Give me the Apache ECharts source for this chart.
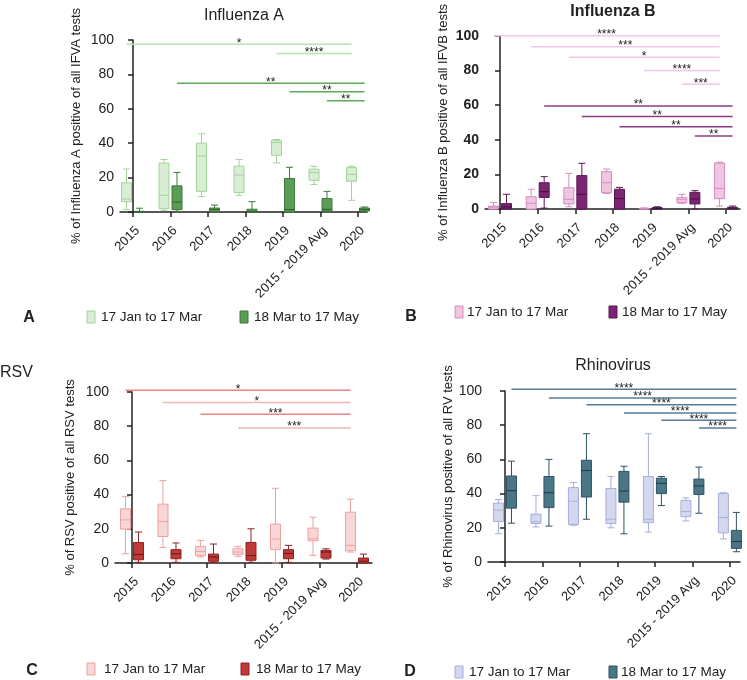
<!DOCTYPE html>
<html><head><meta charset="utf-8">
<script src="https://cdn.jsdelivr.net/npm/echarts@6/dist/echarts.min.js"></script>
<style>html,body{margin:0;padding:0;background:#fff}#c{width:747px;height:680px}</style>
</head><body><div id="c"></div>
<script>
// ---------------- DATA ----------------
const categories = ['2015', '2016', '2017', '2018', '2019', '2015 - 2019 Avg', '2020'];
const yTicks = [0, 20, 40, 60, 80, 100];
const legendNames = ['17 Jan to 17 Mar', '18 Mar to 17 May'];
// box values: [min, Q1, median, Q3, max]
const fluA_early = [
  [1.5, 6, 7.5, 17, 25],
  [1, 2, 9.7, 28.5, 30.5],
  [9, 12, 32.5, 40, 45.5],
  [9.7, 11.3, 21.5, 26.6, 30.5],
  [28.5, 33, 40.4, 41.7, 42.1],
  [16, 18.4, 22.9, 24.9, 26.6],
  [6.8, 17.9, 21.9, 25.8, 26.6]
];
const fluA_late = [
  [0, 0, 0, 0.4, 2.2],
  [0.4, 1.4, 5.8, 15.2, 23],
  [0, 0.3, 1.5, 2.3, 4],
  [0, 0, 0.4, 1.6, 6],
  [0, 0, 1.4, 19.5, 26],
  [0, 0.6, 1.6, 7.8, 12],
  [0.4, 0.6, 1.5, 2.3, 2.9]
];
// significance bars: [fromCategory, toCategory, yLevel, label]
const fluA_sigEarly = [[0, 6, 97.5, '*'], [4, 6, 92.2, '****']];
const fluA_sigLate = [[1, 6, 74.8, '**'], [4, 6, 69.9, '**'], [5, 6, 64.7, '**']];

const fluB_early = [
  [0, 0, 1, 1.7, 3.8],
  [0, 0, 3.3, 7.1, 11.4],
  [1.3, 2.9, 5.6, 12.3, 20.6],
  [9, 9.4, 15.2, 21.6, 23.1],
  [0, 0, 0.2, 0.4, 0.6],
  [3.3, 3.7, 5.6, 6.7, 8.5],
  [1.7, 6, 11.9, 26.6, 27]
];
const fluB_late = [
  [0, 0, 1.2, 3.1, 8.5],
  [0.5, 6.7, 10, 15.2, 18.7],
  [0, 0, 8.5, 19.3, 26.4],
  [0, 0, 6, 11.4, 12.5],
  [0, 0, 0.4, 0.8, 1.3],
  [0, 2.9, 5.8, 9.6, 10.6],
  [0, 0, 0.5, 1, 1.7]
];
const fluB_sigEarly = [[0, 6, 100.2, '****'], [1, 6, 93.8, '***'], [2, 6, 87.7, '*'], [4, 6, 80, '****'], [5, 6, 72.1, '***']];
const fluB_sigLate = [[1, 6, 59.5, '**'], [2, 6, 53.4, '**'], [3, 6, 47.6, '**'], [5, 6, 42.2, '**']];

const rsv_early = [
  [5.4, 19.8, 25.2, 31.7, 38.8],
  [9.1, 15.5, 24.3, 34.4, 48.2],
  [3.5, 4.3, 6.8, 9.7, 13.2],
  [3.9, 4.9, 6.4, 8.3, 9.7],
  [0, 7.8, 14, 22.7, 43.7],
  [4.5, 13, 14.2, 20.4, 26.8],
  [6.4, 7.2, 10.3, 29.7, 37.3]
];
const rsv_late = [
  [0.4, 1.9, 4.9, 12, 18.1],
  [0.4, 2.5, 5.4, 7.8, 11.7],
  [0.4, 1, 3.5, 5.2, 11.1],
  [0.4, 1.6, 4.3, 12, 20],
  [0.4, 2.5, 5.6, 7.8, 10.3],
  [2.3, 2.9, 6.4, 7.4, 8.3],
  [0, 0, 1, 2.9, 5.2]
];
const rsv_sigEarly = [[0, 6, 101, '*'], [1, 6, 93.8, '*'], [2, 6, 87, '***'], [3, 6, 79, '***']];
const rsv_sigLate = [];

const rv_early = [
  [16.5, 23.7, 30.3, 34.4, 36.5],
  [20.5, 22.5, 23.5, 28, 38.8],
  [21.5, 22, 35.5, 43.5, 46.5],
  [20, 22.5, 25, 43, 50],
  [17.5, 23, 25, 50, 75],
  [24, 26.5, 29.5, 36, 37.5],
  [13.5, 17, 26, 40, 40.5]
];
const rv_late = [
  [22.7, 31.5, 41.7, 50.3, 59],
  [21, 31.8, 40.5, 50, 60],
  [25, 38, 53.5, 59.5, 75],
  [16.5, 35, 41.5, 53, 56],
  [33, 40, 46, 49, 50],
  [28.5, 39.5, 44.5, 48.5, 55.5],
  [6, 8, 12, 18.5, 29]
];
const rv_sigEarly = [];
const rv_sigLate = [[0, 6, 101, '****'], [1, 6, 95.9, '****'], [2, 6, 92, '****'], [3, 6, 87.2, '****'], [4, 6, 82.9, '****'], [5, 6, 78.4, '****']];

// ---------------- STYLE / LAYOUT ----------------
const FONT = '"Liberation Sans", Arial, Helvetica, sans-serif';
const TXT = '#222';
const BOX_W = 10, CAP_W = 7, OFF = 6.5;

const panels = [
  { grid: { left: 120, top: 40, width: 247, height: 172 }, xr: [-0.347, 6.24],
    early: fluA_early, late: fluA_late, sigE: fluA_sigEarly, sigL: fluA_sigLate,
    yName: '% of Influenza A positive of all IFVA tests', nameGap: 37, bold: false,
    c: { eFill: '#d8edd4', eStroke: '#a2d49a', lFill: '#5b9d57', lStroke: '#3c7a39', lMed: '#2c6229',
         sigE: ['#b9e3b1'], sigL: ['#5aab55'] } },
  { grid: { left: 485, top: 36, width: 255, height: 173 }, xr: [-0.398, 6.37],
    early: fluB_early, late: fluB_late, sigE: fluB_sigEarly, sigL: fluB_sigLate,
    yName: '% of Influenza B positive of all IFVB tests', nameGap: 35, bold: true,
    c: { eFill: '#efc5e1', eStroke: '#d68dc0', lFill: '#7c2573', lStroke: '#5a1854', lMed: '#3e0f3a',
         sigE: ['#f0c9e5'], sigL: ['#8b3b87'] } },
  { grid: { left: 115, top: 392, width: 257, height: 171 }, xr: [-0.453, 6.4],
    early: rsv_early, late: rsv_late, sigE: rsv_sigEarly, sigL: rsv_sigLate,
    yName: '% of RSV positive of all RSV tests', nameGap: 38, bold: false,
    c: { eFill: '#f9d6d6', eStroke: '#efa0a0', lFill: '#c13a3a', lStroke: '#8e2222', lMed: '#6a1515',
         sigE: ['#e98585', '#f4b8b8', '#e98585', '#f4b8b8'], sigL: ['#c13a3a'] } },
  { grid: { left: 488, top: 391, width: 252, height: 171 }, xr: [-0.453, 6.27],
    early: rv_early, late: rv_late, sigE: rv_sigEarly, sigL: rv_sigLate,
    yName: '% of Rhinovirus positive of all RV tests', nameGap: 31, bold: false,
    c: { eFill: '#d3d8ef', eStroke: '#a6aedc', lFill: '#4a7686', lStroke: '#2c5361', lMed: '#1c3a45',
         sigE: ['#a6aedc'], sigL: ['#4f7f90'] } }
];

const catIdx = categories.map((_, i) => i);

function boxRender(offset, fill, stroke, med) {
  return function (params, api) {
    const i = api.value(0);
    const cx = api.coord([i, 0])[0] + offset;
    const y = k => api.coord([i, api.value(k)])[1];
    const yMin = y(1), yQ1 = y(2), yMed = y(3), yQ3 = y(4), yMax = y(5);
    const hw = BOX_W / 2, cw = CAP_W / 2;
    const ls = { stroke: stroke, lineWidth: 1 };
    return { type: 'group', children: [
      { type: 'line', shape: { x1: cx, y1: yQ3, x2: cx, y2: yMax }, style: ls },
      { type: 'line', shape: { x1: cx - cw, y1: yMax, x2: cx + cw, y2: yMax }, style: ls },
      { type: 'line', shape: { x1: cx, y1: yQ1, x2: cx, y2: yMin }, style: ls },
      { type: 'line', shape: { x1: cx - cw, y1: yMin, x2: cx + cw, y2: yMin }, style: ls },
      { type: 'rect', shape: { x: cx - hw, y: yQ3, width: BOX_W, height: Math.max(yQ1 - yQ3, 0.6) },
        style: { fill: fill, stroke: stroke, lineWidth: 1 } },
      { type: 'line', shape: { x1: cx - hw, y1: yMed, x2: cx + hw, y2: yMed }, style: { stroke: med, lineWidth: 1 } }
    ] };
  };
}

function sigRender(list, offset, colors) {
  return function (params, api) {
    const s = list[params.dataIndex];
    const col = colors[params.dataIndex % colors.length];
    const p1 = api.coord([api.value(0), api.value(2)]);
    const p2 = api.coord([api.value(1), api.value(2)]);
    const x1 = p1[0] + offset, x2 = p2[0] + offset, yy = p1[1];
    return { type: 'group', children: [
      { type: 'line', shape: { x1: x1, y1: yy, x2: x2, y2: yy }, style: { stroke: col, lineWidth: 1.5 } },
      { type: 'text', x: (x1 + x2) / 2, y: yy + 5,
        style: { text: s[3], fill: TXT, font: '12px ' + FONT, textAlign: 'center', textVerticalAlign: 'bottom' } }
    ] };
  };
}

const grid = [], xAxis = [], yAxis = [], series = [];
panels.forEach((p, k) => {
  grid.push(Object.assign({ containLabel: false }, p.grid));
  xAxis.push({
    type: 'value', gridIndex: k, min: p.xr[0], max: p.xr[1],
    splitLine: { show: false },
    axisLine: { show: true, onZero: false, lineStyle: { color: TXT, width: 1.5 } },
    axisTick: { show: true, customValues: catIdx, length: 5, lineStyle: { color: TXT, width: 1.5 } },
    axisLabel: { show: true, customValues: catIdx, rotate: 45, margin: 12, verticalAlign: 'top',
                 fontSize: 13, color: TXT, fontFamily: FONT,
                 formatter: v => categories[Math.round(v)] }
  });
  yAxis.push({
    type: 'value', gridIndex: k, min: yTicks[0], max: yTicks[yTicks.length - 1], interval: yTicks[1] - yTicks[0],
    splitLine: { show: false },
    axisLine: { show: true, lineStyle: { color: TXT, width: 1.5 } },
    axisTick: { show: true, length: 5, lineStyle: { color: TXT, width: 1.5 } },
    axisLabel: { margin: 6, fontSize: 14, color: TXT, fontFamily: FONT, fontWeight: p.bold ? 'bold' : 'normal' },
    name: p.yName, nameLocation: 'middle', nameGap: p.nameGap,
    nameTextStyle: { fontSize: 13, color: TXT, fontFamily: FONT }
  });
  series.push({
    type: 'custom', name: legendNames[0], xAxisIndex: k, yAxisIndex: k, clip: false,
    encode: { x: 0, y: [1, 2, 3, 4, 5] },
    data: p.early.map((d, i) => [i].concat(d)),
    renderItem: boxRender(-OFF, p.c.eFill, p.c.eStroke, p.c.eStroke)
  });
  series.push({
    type: 'custom', name: legendNames[1], xAxisIndex: k, yAxisIndex: k, clip: false,
    encode: { x: 0, y: [1, 2, 3, 4, 5] },
    data: p.late.map((d, i) => [i].concat(d)),
    renderItem: boxRender(OFF, p.c.lFill, p.c.lStroke, p.c.lMed)
  });
  if (p.sigE.length) series.push({
    type: 'custom', xAxisIndex: k, yAxisIndex: k, clip: false, z: 3,
    encode: { x: [0, 1], y: 2 },
    data: p.sigE.map(s => [s[0], s[1], s[2]]),
    renderItem: sigRender(p.sigE, -OFF, p.c.sigE)
  });
  if (p.sigL.length) series.push({
    type: 'custom', xAxisIndex: k, yAxisIndex: k, clip: false, z: 3,
    encode: { x: [0, 1], y: 2 },
    data: p.sigL.map(s => [s[0], s[1], s[2]]),
    renderItem: sigRender(p.sigL, OFF, p.c.sigL)
  });
});

// titles, letters, legends as real text
const graphics = [];
function txt(text, x, y, size, bold, align) {
  graphics.push({ type: 'text', x: x, y: y, silent: true,
    style: { text: text, fill: TXT, font: (bold ? 'bold ' : '') + size + 'px ' + FONT,
             textAlign: align || 'center', textVerticalAlign: 'middle' } });
}
txt('Influenza A', 244, 16, 16, false);
txt('Influenza B', 613, 12, 16, true);
txt('Rhinovirus', 613, 366, 16, false);
txt('RSV', 0, 373, 16, false, 'left');
txt('A', 29, 318, 16, true);
txt('B', 411, 317, 16, true);
txt('C', 32, 671, 16, true);
txt('D', 410, 672, 16, true);

const legendPos = [
  { y: 317, r1: 87, t1: 101, r2: 240, t2: 254 },
  { y: 312, r1: 455, t1: 467, r2: 609, t2: 622 },
  { y: 669, r1: 87, t1: 104, r2: 241, t2: 256 },
  { y: 672, r1: 455, t1: 469, r2: 609, t2: 621 }
];
panels.forEach((p, k) => {
  const L = legendPos[k];
  graphics.push({ type: 'rect', shape: { x: L.r1, y: L.y - 6, width: 8, height: 12 },
    style: { fill: p.c.eFill, stroke: p.c.eStroke, lineWidth: 1 } });
  graphics.push({ type: 'rect', shape: { x: L.r2, y: L.y - 6, width: 8, height: 12 },
    style: { fill: p.c.lFill, stroke: p.c.lStroke, lineWidth: 1 } });
  txt(legendNames[0], L.t1, L.y, 13.5, false, 'left');
  txt(legendNames[1], L.t2, L.y, 13.5, false, 'left');
});

const chart = echarts.init(document.getElementById('c'));
chart.setOption({
  backgroundColor: '#fff',
  animation: false,
  grid: grid, xAxis: xAxis, yAxis: yAxis, series: series,
  graphic: graphics
});
</script>
</body></html>
